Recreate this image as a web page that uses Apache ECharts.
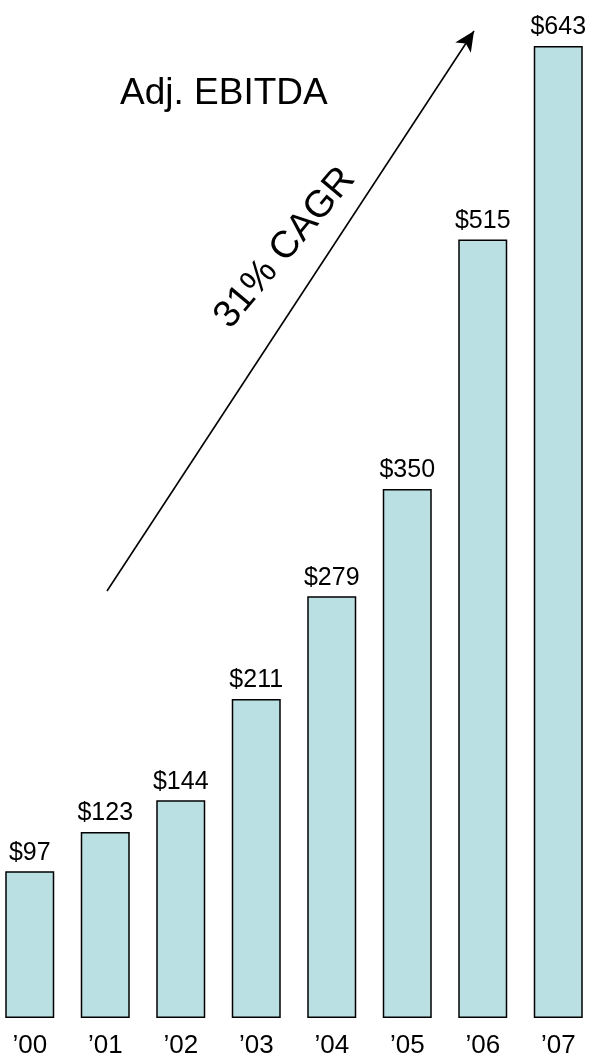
<!DOCTYPE html>
<html>
<head>
<meta charset="utf-8">
<script src="https://cdn.jsdelivr.net/npm/echarts@6/dist/echarts.min.js"></script>
<style>
  html, body { margin: 0; padding: 0; background: #ffffff; overflow: hidden; }
  body { position: relative; width: 595px; height: 1059px; }
  /* the plot runs slightly past the left page edge so the bands line up */
  #chart { position: absolute; left: -8px; top: 0; width: 604px; height: 1059px; }
</style>
</head>
<body>
<div id="chart"></div>
<script>
// Adjusted EBITDA by year ($ millions)
const years = ['\u201900', '\u201901', '\u201902', '\u201903', '\u201904', '\u201905', '\u201906', '\u201907'];
const ebitda = [97, 123, 144, 211, 279, 350, 515, 643];
const valueLabels = ebitda.map(v => '$' + v);
const cagrText = '31% CAGR';
const titleText = 'Adj. EBITDA';

const FONT = '"Liberation Sans", Arial, Helvetica, sans-serif';
const SHIFT = 8; // page x = canvas x - SHIFT

const chart = echarts.init(document.getElementById('chart'), null, { renderer: 'canvas' });

chart.setOption({
  animation: false,
  backgroundColor: '#ffffff',
  grid: { left: 0, right: 0, top: 46, bottom: 36, containLabel: false },
  xAxis: {
    type: 'category',
    data: years,
    axisLine: { show: false },
    axisTick: { show: false },
    axisLabel: { color: '#000', fontSize: 26, fontFamily: FONT, margin: 15 }
  },
  yAxis: {
    type: 'value',
    min: 0,
    max: 'dataMax',
    show: false,
    splitLine: { show: false }
  },
  series: [{
    type: 'bar',
    data: ebitda,
    barWidth: 49,
    itemStyle: { color: '#BBE0E3', borderColor: '#000', borderWidth: 1.5 },
    label: {
      show: true,
      position: 'top',
      distance: 6,
      color: '#000',
      fontSize: 25,
      fontFamily: FONT,
      formatter: p => valueLabels[p.dataIndex]
    },
    markLine: {
      silent: true,
      symbol: ['none', 'arrow'],
      symbolSize: [14, 20],
      label: { show: false },
      lineStyle: { color: '#000', width: 1.6, type: 'solid' },
      data: [[{ x: 107 + SHIFT, y: 591 }, { x: 474 + SHIFT, y: 31 }]]
    }
  }],
  graphic: [
    {
      type: 'text',
      x: 120 + SHIFT, y: 94,
      style: { text: titleText, fill: '#000', font: '37px ' + FONT, textAlign: 'left', textVerticalAlign: 'middle' }
    },
    {
      type: 'text',
      x: 285 + SHIFT, y: 248,
      rotation: 50 * Math.PI / 180,
      style: { text: cagrText, fill: '#000', font: '38px ' + FONT, textAlign: 'center', textVerticalAlign: 'middle' }
    }
  ]
});
</script>
</body>
</html>
